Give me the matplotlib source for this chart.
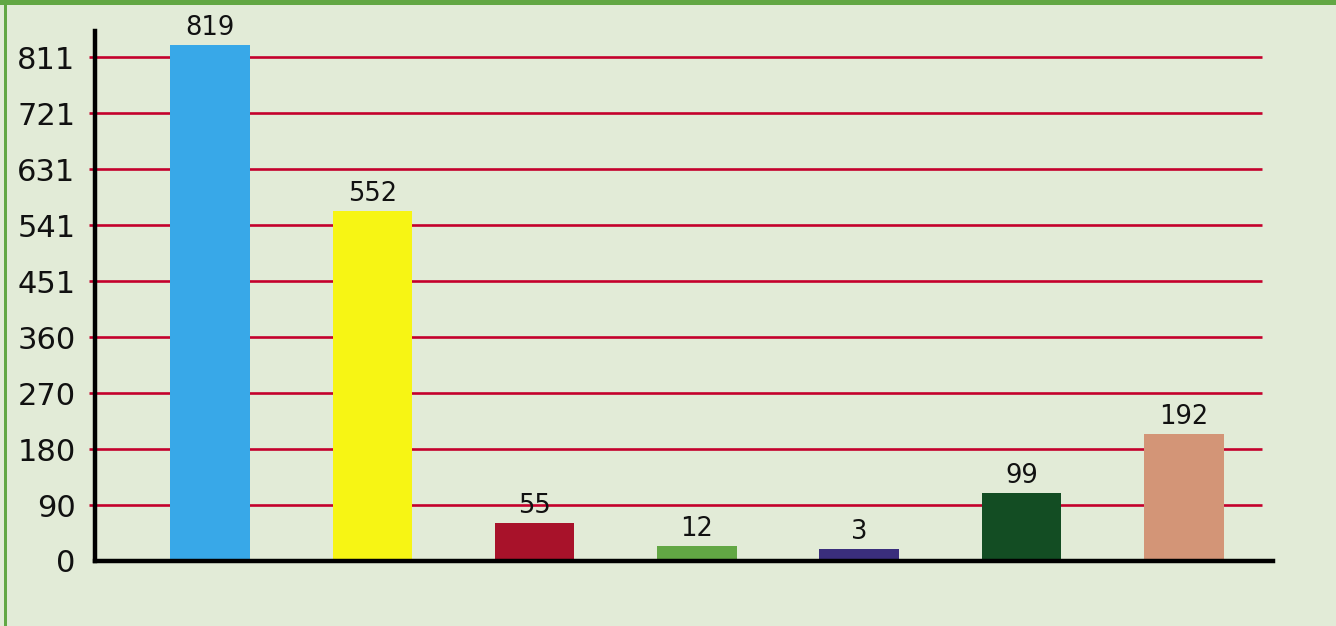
import matplotlib
matplotlib.use("Agg")
import matplotlib.pyplot as plt
from matplotlib.patches import Rectangle

# numbers printed above the bars, left to right
values = [819, 552, 55, 12, 3, 99, 192]
# bar heights as they are drawn in the picture (measured against the y axis)
bar_heights = [830, 563, 61, 24, 19, 109, 204]
bar_colors = ['#38a8e8', '#f7f514', '#a8122a', '#62a744', '#3a2e7c', '#134d23', '#d39577']
# y ticks are 811 split into 9 steps
tick_step = 811 / 9
tick_vals = [i * tick_step for i in range(10)]
tick_labels = ['0', '90', '180', '270', '360', '451', '541', '631', '721', '811']

bg = '#e2ebd7'
grid_col = '#c4002c'
border_col = '#62a744'

fig = plt.figure(figsize=(13.36, 6.26), dpi=100, facecolor=bg)
ax = fig.add_axes([95 / 1336, 1 - 561 / 626, (1273 - 95) / 1336, (561 - 31) / 626])
ax.set_facecolor(bg)

x = list(range(len(values)))
ax.set_xlim(-0.709, 6.55)
ax.set_ylim(0, 853)

# red grid lines, sticking out a bit left of the axis like tick marks
ax.hlines(tick_vals[1:], -0.746, 6.48, colors=grid_col, linewidth=1.9, zorder=1, clip_on=False)

ax.bar(x, bar_heights, width=0.49, color=bar_colors, zorder=2)
for xi, h, v in zip(x, bar_heights, values):
    ax.annotate(str(v), (xi, h), xytext=(0, 3), textcoords='offset points',
                ha='center', va='bottom', fontsize=18.5, color='#111111')

ax.set_yticks(tick_vals)
ax.set_yticklabels(tick_labels, fontsize=22, color='#111111')
ax.tick_params(axis='y', length=0, pad=14)
ax.set_xticks([])

for s in ['top', 'right']:
    ax.spines[s].set_visible(False)
for s in ['left', 'bottom']:
    ax.spines[s].set_linewidth(3.2)
    ax.spines[s].set_color('black')
    ax.spines[s].set_zorder(3)

# green frame on the top and left edge
fig.patches.append(Rectangle((0, 1 - 4.5 / 626), 1, 4.5 / 626, transform=fig.transFigure,
                             facecolor=border_col, edgecolor='none'))
fig.patches.append(Rectangle((4 / 1336, 0), 3 / 1336, 1, transform=fig.transFigure,
                             facecolor=border_col, edgecolor='none'))

fig.savefig("out.png", dpi=100, facecolor=bg)
